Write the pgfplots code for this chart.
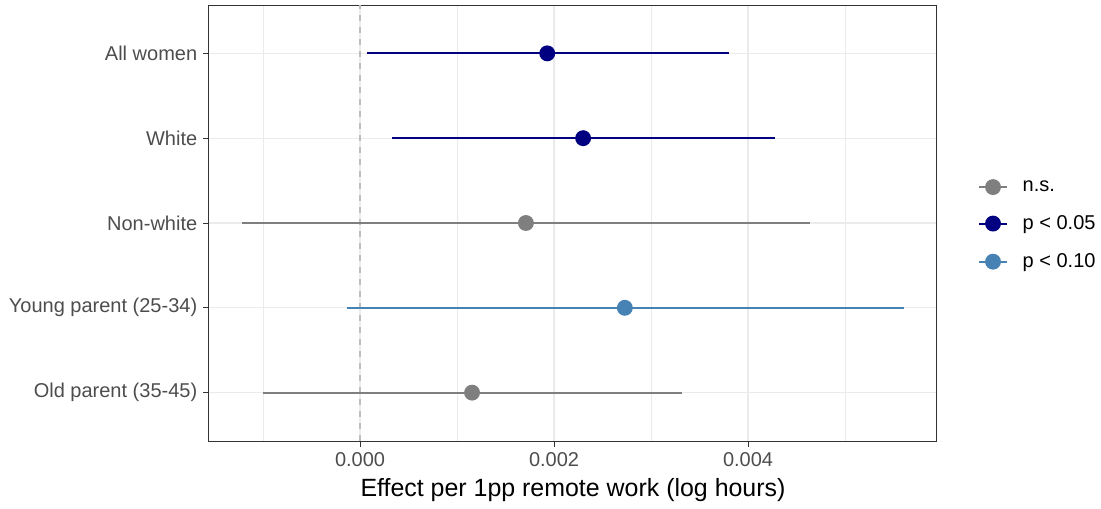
\documentclass[border=0pt]{standalone}
\usepackage{pgfplots}
\pgfplotsset{compat=1.18}
\usepackage{pgfplotstable}
\usepackage{fontspec}
\setmainfont{Liberation Sans}
\definecolor{gNS}{HTML}{7F7F7F}
\definecolor{gNavy}{HTML}{000080}
\definecolor{gSteel}{HTML}{4682B4}
\definecolor{grid92}{HTML}{EBEBEB}
\definecolor{grey30}{HTML}{4D4D4D}
\definecolor{grey20}{HTML}{333333}
\definecolor{vline}{HTML}{BEBEBE}

% y: 5=All women, 4=White, 3=Non-white, 2=Young parent, 1=Old parent
\pgfplotstableread{
y est lo hi
3 0.00171 -0.00122 0.00464
1 0.001155 -0.00100 0.00332
}\tabNS
\pgfplotstableread{
y est lo hi
5 0.00193 0.00007 0.00380
4 0.00230 0.00033 0.00428
}\tabFive
\pgfplotstableread{
y est lo hi
2 0.00273 -0.00013 0.00561
}\tabTen

\begin{document}
\begin{tikzpicture}
\begin{axis}[
  at={(0,0)}, anchor=south west,
  scale only axis, width=546pt, height=327pt,
  xmin=-0.001557, xmax=0.005948,
  ymin=0.43, ymax=5.57,
  xtick={0,0.002,0.004},
  minor xtick={-0.001,0.001,0.003,0.005},
  ytick={1,2,3,4,5},
  yticklabels={Old parent (35-45),Young parent (25-34),Non-white,White,All women},
  xmajorgrids, xminorgrids, ymajorgrids,
  major grid style={color=grid92, line width=0.9pt},
  minor grid style={color=grid92, line width=0.5pt},
  axis line style={color=grey20, line width=0.75pt},
  tick style={color=grey20, line width=0.75pt},
  major tick length=4.3pt, minor tick length=0pt,
  tick align=outside, xtick pos=bottom, ytick pos=left,
  scaled x ticks=false,
  xticklabel style={/pgf/number format/fixed, /pgf/number format/fixed zerofill, /pgf/number format/precision=3, /pgf/number format/assume math mode=true, yshift=-1pt},
  ticklabel style={font=\fontsize{15}{18}\selectfont, text=grey30},
  yticklabel style={xshift=-1pt},
  xlabel={Effect per 1pp remote work (log hours)},
  xlabel style={font=\fontsize{18.7}{22}\selectfont, text=black, yshift=-2pt},
  legend style={at={(1.056,0.495)}, anchor=west, draw=none, fill=none,
    font=\fontsize{15}{18}\selectfont, row sep=12.6pt, inner sep=0pt,
    /tikz/every odd column/.append style={column sep=9pt}},
  legend cell align=left,
  clip=false,
]
\addplot[vline, line width=1.1pt, dash pattern=on 4.5pt off 4.5pt, forget plot]
  coordinates {(0,0.43) (0,5.57)};

\addplot[gNS, only marks, mark=*, mark size=5.2pt, line width=1.5pt, forget plot,
  error bars/.cd, x dir=both, x explicit, error mark=none,
  error bar style={line width=1.5pt, gNS}]
  table[x=est, y=y, x error plus expr={\thisrow{hi}-\thisrow{est}}, x error minus expr={\thisrow{est}-\thisrow{lo}}] {\tabNS};
\addplot[gNavy, only marks, mark=*, mark size=5.2pt, line width=1.5pt, forget plot,
  error bars/.cd, x dir=both, x explicit, error mark=none,
  error bar style={line width=1.5pt, gNavy}]
  table[x=est, y=y, x error plus expr={\thisrow{hi}-\thisrow{est}}, x error minus expr={\thisrow{est}-\thisrow{lo}}] {\tabFive};
\addplot[gSteel, only marks, mark=*, mark size=5.2pt, line width=1.5pt, forget plot,
  error bars/.cd, x dir=both, x explicit, error mark=none,
  error bar style={line width=1.5pt, gSteel}]
  table[x=est, y=y, x error plus expr={\thisrow{hi}-\thisrow{est}}, x error minus expr={\thisrow{est}-\thisrow{lo}}] {\tabTen};

\addlegendimage{gNS, line width=1.5pt, legend image code/.code={\draw (0pt,0pt) -- (21pt,0pt); \fill (10.5pt,0pt) circle (5.2pt);}}
\addlegendentry{n.s.}
\addlegendimage{gNavy, line width=1.5pt, legend image code/.code={\draw (0pt,0pt) -- (21pt,0pt); \fill (10.5pt,0pt) circle (5.2pt);}}
\addlegendentry{p < 0.05}
\addlegendimage{gSteel, line width=1.5pt, legend image code/.code={\draw (0pt,0pt) -- (21pt,0pt); \fill (10.5pt,0pt) circle (5.2pt);}}
\addlegendentry{p < 0.10}
\end{axis}
\pgfresetboundingbox
\path[use as bounding box] (-156.75pt,-50.25pt) rectangle (669pt,330.75pt);
\end{tikzpicture}
\end{document}
